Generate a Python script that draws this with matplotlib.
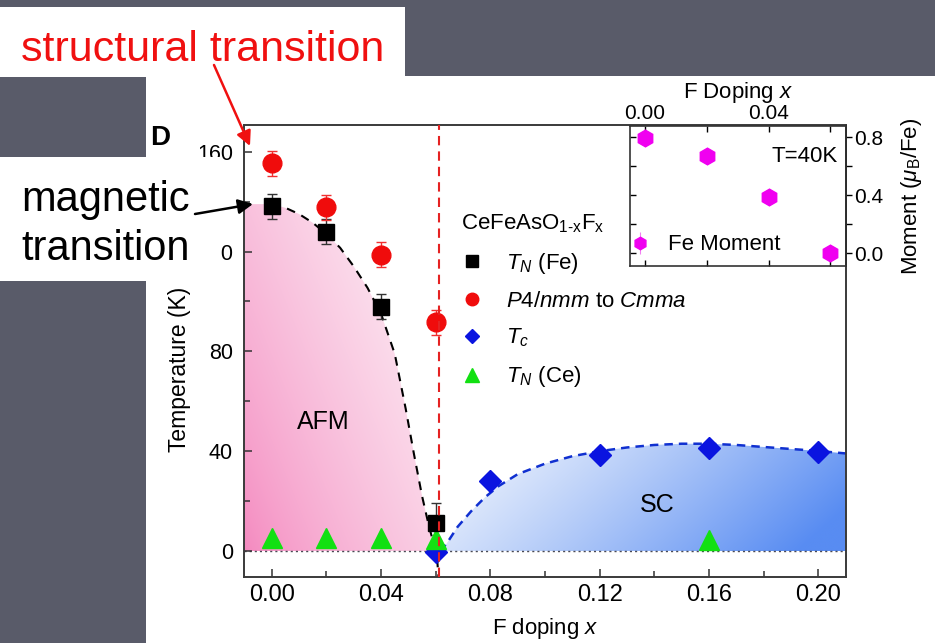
import numpy as np
import matplotlib
matplotlib.use('Agg')
import matplotlib.pyplot as plt
from matplotlib.patches import Rectangle, FancyArrowPatch, Polygon
from matplotlib.lines import Line2D
from matplotlib.ticker import MultipleLocator, FormatStrFormatter

plt.rcParams['font.family'] = ['Liberation Sans', 'DejaVu Sans']
plt.rcParams['mathtext.fontset'] = 'custom'
plt.rcParams['mathtext.rm'] = 'Liberation Sans'
plt.rcParams['mathtext.it'] = 'Liberation Sans:italic'
plt.rcParams['mathtext.bf'] = 'Liberation Sans:bold'
plt.rcParams['font.size'] = 16

# ---------------- data ----------------
x_tn_fe = [0.00, 0.02, 0.04, 0.06]
t_tn_fe = [138.2, 128.0, 97.8, 11.2]
err_tn_fe = [5, 5, 5, 8]

x_struct = [0.00, 0.02, 0.04, 0.06]
t_struct = [155.3, 137.8, 118.7, 91.7]
err_struct = [5, 5, 5, 5]

x_tc = [0.06, 0.08, 0.12, 0.16, 0.20]
t_tc = [-0.3, 28.2, 38.5, 41.1, 39.7]

x_tn_ce = [0.00, 0.02, 0.04, 0.06, 0.16]
t_tn_ce = [5.3, 5.3, 5.3, 5.0, 4.5]

# dashed guide line of the AFM dome
x_afm = [0.000, 0.005, 0.010, 0.015, 0.020, 0.025, 0.030, 0.035, 0.040,
         0.045, 0.049, 0.052, 0.055, 0.0575, 0.0595, 0.0600, 0.0605, 0.0610]
t_afm = [139, 137.5, 135, 131.5, 127, 121.5, 114, 105.5, 95,
         79, 57, 39, 22, 10, 2, 0, -3, -10.4]
afm_left_top = 139

# dashed guide line of the SC dome
x_sc = [0.0615, 0.064, 0.068, 0.073, 0.078, 0.083, 0.090, 0.100, 0.110, 0.120,
        0.130, 0.140, 0.150, 0.160, 0.170, 0.180, 0.190, 0.200, 0.2102]
t_sc = [0, 3, 9.7, 16, 21.5, 26, 30.8, 35, 38, 40,
        41.5, 42.5, 43, 43, 42.5, 41.7, 40.9, 40.1, 39.1]

x_boundary = 0.0612

# inset: Fe moment
x_mom = [0.00, 0.02, 0.04, 0.06]
m_mom = [0.795, 0.674, 0.39, 0.0]
err_mom = [0.03, 0.04, 0.03, 0.03]

xticks_main = [0.00, 0.04, 0.08, 0.12, 0.16, 0.20]
yticks_main = [0, 40, 80, 120, 160]

# ---------------- figure ----------------
W, H = 935, 643
fig = plt.figure(figsize=(W / 100, H / 100), dpi=100, facecolor='#595b69')


def fx(px):
    return px / W


def fy(py):
    return 1 - py / H


# white areas of the slide
fig.add_artist(Rectangle((fx(146), 0), fx(W - 146), 1 - 76 / H,
                         transform=fig.transFigure, facecolor='white',
                         edgecolor='none', zorder=-5))
fig.add_artist(Rectangle((0, fy(77)), fx(405), 70 / H,
                         transform=fig.transFigure, facecolor='white',
                         edgecolor='none', zorder=-5))

ax = fig.add_axes([fx(244), fy(577), fx(602), 452 / H])
xmin, xmax = -0.0102, 0.2102
ymin, ymax = -10.4, 170.7


def gradient_fill(ax, verts, fn, extent, zorder):
    poly = Polygon(verts, closed=True, transform=ax.transData,
                   facecolor='none', edgecolor='none')
    ax.add_patch(poly)
    gx = np.linspace(extent[0], extent[1], 400)
    gy = np.linspace(extent[2], extent[3], 300)
    X, Y = np.meshgrid(gx, gy)
    img = fn(X, Y)
    im = ax.imshow(img, extent=extent, origin='lower', aspect='auto',
                   zorder=zorder, interpolation='bilinear')
    im.set_clip_path(poly)


pink_strong = np.array([244, 135, 190]) / 255
pink_light = np.array([253, 240, 246]) / 255


def pink_fn(X, Y):
    s = np.clip(0.62 * (X - xmin) / (0.061 - xmin) + 0.45 * (Y / 140), 0, 1) ** 0.75
    return pink_strong * (1 - s[..., None]) + pink_light * s[..., None]


blue_strong = np.array([88, 140, 242]) / 255
blue_light = np.array([242, 246, 253]) / 255


def blue_fn(X, Y):
    s = np.clip(0.85 * (X - 0.0615) / (xmax - 0.0615) + 0.25 * (1 - Y / 43), 0, 1) ** 1.2
    return blue_light * (1 - s[..., None]) + blue_strong * s[..., None]


pink_verts = [(xmin, 0), (xmin, afm_left_top)] + \
    [(a, b) for a, b in zip(x_afm, t_afm) if b >= 0]
gradient_fill(ax, pink_verts, pink_fn, [xmin, 0.062, 0, 141], 0.5)

blue_verts = list(zip(x_sc, t_sc)) + [(xmax, 0)]
gradient_fill(ax, blue_verts, blue_fn, [0.0615, xmax, 0, 44], 0.5)

# zero line
ax.axhline(0, color='#4a4a55', lw=1.0, ls=(0, (1.5, 2.2)), zorder=1.5)

# guide lines
ax.plot(x_afm, t_afm, color='black', lw=1.5, ls=(0, (4.2, 3.4)), zorder=2)
ax.plot(x_sc, t_sc, color='#1030d0', lw=1.8, ls=(0, (3.4, 2.4)), zorder=2)

# data
ax.errorbar(x_tn_fe, t_tn_fe, yerr=err_tn_fe, fmt='s', color='black',
            ms=11.5, capsize=3.3, elinewidth=1.0, capthick=1.0,
            ecolor='#333333', zorder=4)
ax.errorbar(x_struct, t_struct, yerr=err_struct, fmt='o', color='#f00c0c',
            ms=13.5, capsize=3.3, elinewidth=1.0, capthick=1.0,
            ecolor='#f03030', zorder=4)
ax.plot(x_tc, t_tc, 'D', color='#0a14e0', ms=11.5, ls='none', zorder=4)
ax.plot(x_tn_ce, t_tn_ce, '^', color='#12e012', ms=15, ls='none', zorder=4)

# boundary
ax.axvline(x_boundary, color='#e52222', lw=1.5, ls=(0, (4.5, 2.9)), zorder=6)

ax.text(0.0189, 51.9, 'AFM', ha='center', va='center', fontsize=18, zorder=7)
ax.text(0.141, 18.6, 'SC', ha='center', va='center', fontsize=18, zorder=7)

ax.set_xlim(xmin, xmax)
ax.set_ylim(ymin, ymax)
ax.set_xticks(xticks_main)
ax.xaxis.set_major_formatter(FormatStrFormatter('%.2f'))
ax.xaxis.set_minor_locator(MultipleLocator(0.02))
ax.set_yticks(yticks_main)
ax.yaxis.set_minor_locator(MultipleLocator(20))
ax.tick_params(axis='both', which='both', direction='in', top=False,
               right=False, color='#333333', width=1.1)
ax.tick_params(axis='both', which='major', length=6)
ax.tick_params(axis='both', which='minor', length=4)
ax.tick_params(axis='x', labelsize=17, pad=5)
ax.tick_params(axis='y', labelsize=15.5, pad=8)
for sp in ax.spines.values():
    sp.set_linewidth(1.4)
    sp.set_color('#3a3a3a')

ax.set_xlabel('F doping $x$', fontsize=16)
ax.xaxis.set_label_coords(0.5, -0.086)
ax.set_ylabel('Temperature (K)', fontsize=16.5)
ax.yaxis.set_label_coords(-0.088, 0.46)

handles = [
    Line2D([], [], ls='none', marker='s', color='black', ms=8),
    Line2D([], [], ls='none', marker='o', color='#f00c0c', ms=9),
    Line2D([], [], ls='none', marker='D', color='#0a14e0', ms=7),
    Line2D([], [], ls='none', marker='^', color='#12e012', ms=10),
]
labels = [r'$T_N$ (Fe)', r'$\mathit{P4/nmm}$ to $\mathit{Cmma}$',
          r'$T_c$', r'$T_N$ (Ce)']
leg = ax.legend(handles, labels, loc='upper left',
                bbox_to_anchor=(fx(447.5), fy(199.5)), bbox_transform=fig.transFigure,
                frameon=False, fontsize=16, handlelength=1.0,
                handletextpad=1.05, labelspacing=0.68, borderpad=0.6,
                borderaxespad=0,
                title=r'CeFeAsO$_{\mathrm{1\text{-}x}}$F$_{\mathrm{x}}$',
                title_fontsize=16, alignment='left')
leg.set_zorder(8)

# ---------------- inset ----------------
ax_in = fig.add_axes([fx(630), fy(266), fx(216), 140 / H], zorder=3)
ax_in.set_facecolor('white')
ax_in.errorbar(x_mom, m_mom, yerr=err_mom, fmt='h', color='#f000f0', ms=12,
               ecolor='#f080f0', elinewidth=0.8, capsize=0, zorder=3,
               label='Fe Moment')
ax_in.set_xlim(-0.00486, 0.0651)
ax_in.set_ylim(-0.089, 0.879)
ax_in.xaxis.set_major_locator(MultipleLocator(0.04))
ax_in.xaxis.set_minor_locator(MultipleLocator(0.02))
ax_in.xaxis.set_major_formatter(FormatStrFormatter('%.2f'))
ax_in.tick_params(axis='x', which='both', direction='in', top=True,
                  bottom=True, labeltop=True, labelbottom=False, length=4,
                  labelsize=15, pad=2, width=1.0)
ax_in.yaxis.set_major_locator(MultipleLocator(0.4))
ax_in.yaxis.set_minor_locator(MultipleLocator(0.2))
ax_in.tick_params(axis='y', which='both', direction='in', left=True,
                  right=False, labelleft=False, length=4, width=1.0)
for sp in ax_in.spines.values():
    sp.set_linewidth(1.2)
    sp.set_color('#333333')
ax_in.set_xlabel('F Doping $x$', fontsize=16)
ax_in.xaxis.set_label_position('top')
ax_in.xaxis.set_label_coords(0.5, 1.2)

sec = ax_in.secondary_yaxis('right')
sec.yaxis.set_major_locator(MultipleLocator(0.4))
sec.yaxis.set_minor_locator(MultipleLocator(0.2))
sec.yaxis.set_major_formatter(FormatStrFormatter('%.1f'))
sec.tick_params(axis='y', which='both', direction='out', length=4,
                labelsize=15, pad=2, width=1.0)
sec.spines['right'].set_linewidth(1.2)
sec.set_ylabel(r'Moment ($\mu_\mathrm{B}$/Fe)', fontsize=16, labelpad=11)

ax_in.text(0.963, 0.779, 'T=40K', transform=ax_in.transAxes, ha='right',
           va='center', fontsize=16)
ax_in.legend(loc='center left', bbox_to_anchor=(fx(631), fy(245)),
             bbox_transform=fig.transFigure, frameon=False, fontsize=16,
             handlelength=0.8, handletextpad=0.86, borderpad=0,
             borderaxespad=0, markerscale=0.75)

# ---------------- slide annotations ----------------
fig.add_artist(Rectangle((0, fy(281)), fx(221), 124 / H,
                         transform=fig.transFigure, facecolor='white',
                         edgecolor='none', zorder=5))
fig.text(fx(21), fy(61), 'structural transition', color='#f01010',
         fontsize=31, ha='left', va='baseline', zorder=6)
fig.text(fx(21), fy(211), 'magnetic', color='black', fontsize=30,
         ha='left', va='baseline', zorder=6)
fig.text(fx(21), fy(260), 'transition', color='black', fontsize=30,
         ha='left', va='baseline', zorder=6)
fig.text(fx(150), fy(145), 'D', color='black', fontsize=20,
         fontweight='bold', ha='left', va='baseline', zorder=6)

fig.add_artist(FancyArrowPatch((fx(214), fy(65)), (fx(250), fy(146)),
                               transform=fig.transFigure, arrowstyle='-|>',
                               mutation_scale=22, color='#f01010', lw=1.8,
                               zorder=7, shrinkA=0, shrinkB=0))
fig.add_artist(FancyArrowPatch((fx(195), fy(214)), (fx(253), fy(204)),
                               transform=fig.transFigure, arrowstyle='-|>',
                               mutation_scale=22, color='black', lw=1.8,
                               zorder=7, shrinkA=0, shrinkB=0))

fig.savefig('out.png', dpi=100, facecolor=fig.get_facecolor())
